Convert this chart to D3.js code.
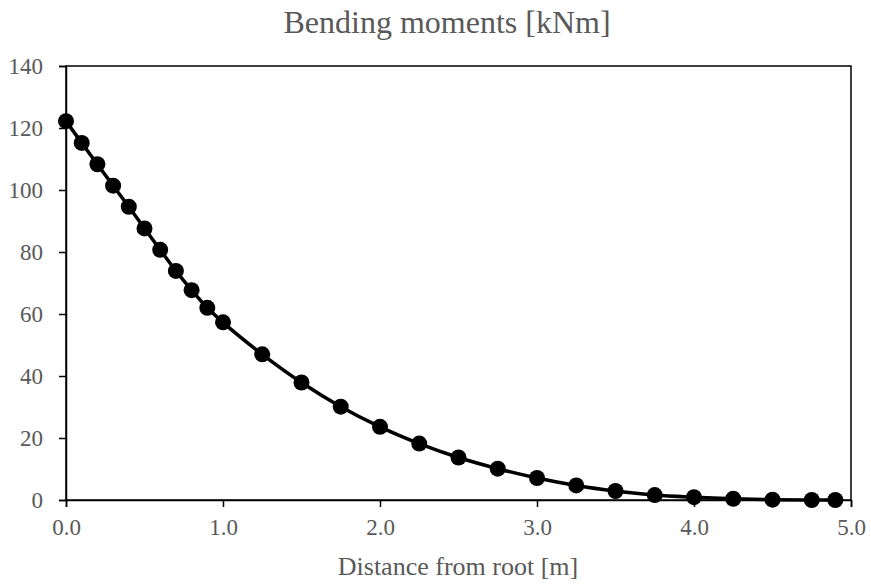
<!DOCTYPE html>
<html>
<head>
<meta charset="utf-8">
<script src="https://cdn.jsdelivr.net/npm/d3@7"></script>
<style>
  body { margin: 0; background: #fff; }
  text { font-family: "Liberation Serif", "Times New Roman", serif; fill: #595959; }
</style>
</head>
<body>
<div id="chart"></div>
<script>
// data
var distance = [0.0, 0.1, 0.2, 0.3, 0.4, 0.5, 0.6, 0.7, 0.8, 0.9, 1.0,
  1.25, 1.5, 1.75, 2.0, 2.25, 2.5, 2.75, 3.0, 3.25, 3.5, 3.75, 4.0, 4.25, 4.5, 4.75, 4.9];
var moment = [122.2, 115.2, 108.3, 101.4, 94.6, 87.6, 80.7, 73.9, 67.7, 62.0, 57.3,
  47.0, 37.9, 30.1, 23.6, 18.2, 13.7, 10.1, 7.1, 4.7, 2.9, 1.6, 0.9, 0.4, 0.1, 0.0, 0.0];
var xTicks = [0, 1, 2, 3, 4, 5];
var yTicks = [0, 20, 40, 60, 80, 100, 120, 140];

var svgWidth = 871;
var svgHeight = 587;
var margin = { top: 66, right: 20, bottom: 87, left: 66 };
var width = 851 - margin.left;
var height = svgHeight - margin.top - margin.bottom;

var svg = d3.select("#chart")
  .append("svg")
  .attr("width", svgWidth)
  .attr("height", svgHeight);

var chartGroup = svg.append("g")
  .attr("transform", `translate(${margin.left}, ${margin.top})`);

var data = distance.map((d, i) => ({ x: d, y: moment[i] }));

var xScale = d3.scaleLinear().domain([0, 5]).range([0, width]);
var yScale = d3.scaleLinear().domain([0, 140]).range([height, 0]);

// frame
chartGroup.append("rect")
  .attr("width", width)
  .attr("height", height)
  .attr("fill", "none")
  .attr("stroke", "#000")
  .attr("stroke-width", 1.5);

var bottomAxis = d3.axisBottom(xScale).tickValues(xTicks).tickFormat(d3.format(".1f")).tickSize(7).tickPadding(12);
var leftAxis = d3.axisLeft(yScale).tickValues(yTicks).tickSize(7).tickPadding(16);

var gx = chartGroup.append("g")
  .attr("transform", `translate(0, ${height})`)
  .call(bottomAxis);
var gy = chartGroup.append("g").call(leftAxis);

[gx, gy].forEach(g => {
  g.attr("font-size", null).attr("font-family", null);
  g.select(".domain").attr("stroke", "#000").attr("stroke-width", 1.5);
  g.selectAll(".tick line").attr("stroke", "#000").attr("stroke-width", 1.5);
  g.selectAll(".tick text")
    .style("font-family", "Liberation Serif, serif")
    .style("font-size", "23px")
    .style("fill", "#595959");
});

// curve
var line = d3.line()
  .x(d => xScale(d.x))
  .y(d => yScale(d.y))
  .curve(d3.curveMonotoneX);

chartGroup.append("path")
  .datum(data)
  .attr("d", line)
  .attr("fill", "none")
  .attr("stroke", "#000")
  .attr("stroke-width", 3.5);

chartGroup.selectAll("circle")
  .data(data)
  .enter()
  .append("circle")
  .attr("cx", d => xScale(d.x))
  .attr("cy", d => yScale(d.y))
  .attr("r", 8)
  .attr("fill", "#000");

// titles
svg.append("text")
  .attr("x", 447)
  .attr("y", 33)
  .attr("text-anchor", "middle")
  .style("font-size", "32px")
  .text("Bending moments [kNm]");

svg.append("text")
  .attr("x", 458)
  .attr("y", 575)
  .attr("text-anchor", "middle")
  .style("font-size", "26px")
  .text("Distance from root [m]");
</script>
</body>
</html>
